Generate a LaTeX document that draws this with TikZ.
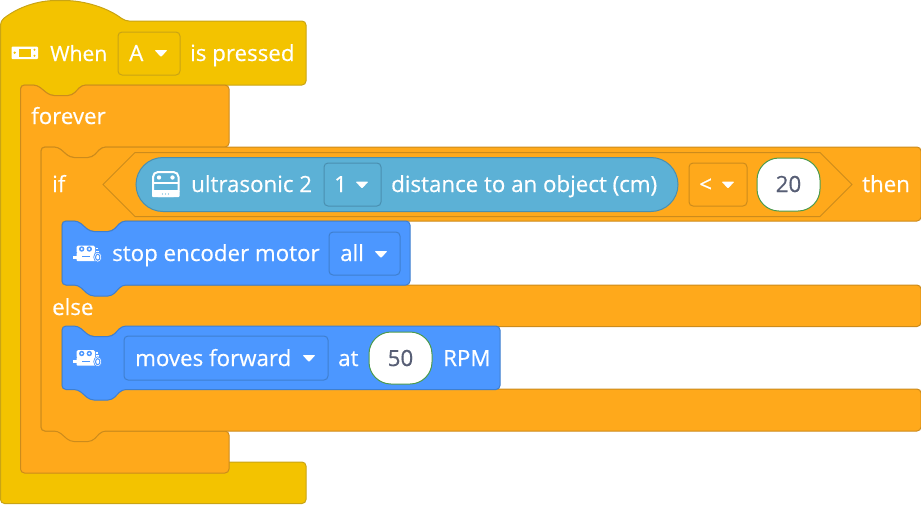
\documentclass[tikz,border=0pt]{standalone}
\usepackage{fontspec}
\setmainfont[RawFeature={embolden=0.5}]{Open Sans}
\usetikzlibrary{positioning}

\definecolor{hatfill}{HTML}{F3C300}
\definecolor{hatline}{HTML}{C9A414}
\definecolor{ctrlfill}{HTML}{FFA91B}
\definecolor{ctrlline}{HTML}{CC8B1C}
\definecolor{motorfill}{HTML}{4C97FF}
\definecolor{motorline}{HTML}{3F7FCF}
\definecolor{sensorfill}{HTML}{5CB1D6}
\definecolor{sensorline}{HTML}{4A8FB0}
\definecolor{numtext}{HTML}{575E75}
\definecolor{numline}{HTML}{4C9A4C}

\tikzset{
  hatblock/.style={draw=hatline,fill=hatfill,rounded corners=4pt,line width=1pt},
  ctrlblock/.style={draw=ctrlline,fill=ctrlfill,rounded corners=4pt,line width=1pt},
  motorblock/.style={draw=motorline,fill=motorfill,rounded corners=4pt,line width=1pt},
  ddbox/.style={rounded corners=4pt,line width=1pt},
  lbl/.style={anchor=base west,inner sep=0pt,text=white,font=\fontsize{22.3}{22.3}\selectfont},
  numlbl/.style={anchor=base,inner sep=0pt,text=numtext,font=\fontsize{22.3}{22.3}\selectfont},
  numpill/.style={draw=numline,fill=white,rounded corners=22pt,line width=1pt},
  motoricon/.pic={
    \fill[white,rounded corners=1.5pt] (3.7,0) rectangle (22,8);
    \fill[white,rounded corners=1pt] (3.7,7) rectangle (23.7,15.7);
    \fill[white] (0,10) rectangle (4,13);
    \fill[white] (22.5,2) rectangle (25,3.5);
    \fill[white] (22.5,5) rectangle (26,6.5);
    \fill[motorfill] (8.7,3.5) circle (2.7);
    \fill[motorfill] (16.3,3.5) circle (2.7);
    \fill[white] (8.7,3.5) circle (1.1);
    \fill[white] (16.3,3.5) circle (1.1);
    \fill[motorfill] (9,10.5) rectangle (17,11.5);
    \fill[white,draw=motorfill,line width=0.7pt] (24.7,11.7) ellipse (4 and 5);
    \fill[motorfill] (24.7,11.7) ellipse (2.7 and 3.6);
    \fill[white] (24.7,11.7) ellipse (1.5 and 2.3);
  }
}
\newcommand{\ddtip}[2]{\fill[white,rounded corners=1pt] (#1-6.5,#2-3) -- (#1+6.5,#2-3) -- (#1,#2+4) -- cycle;}

\begin{document}
\begin{tikzpicture}[x=1pt,y=-1pt]
\useasboundingbox (0,0) rectangle (921,504);

% yellow hat
\draw[hatblock] (0.5,21) .. controls (18,7) and (38,0.5) .. (60,0.5) .. controls (85,0.5) and (108,8) .. (125,21)
  -- (306,21) -- (306,85) -- (82,85) -- (72,95.5) -- (50,95.5) -- (37,85) -- (20.5,85) -- (20.5,462)
  -- (306,462) -- (306,503.5) -- (0.5,503.5) -- cycle;
% forever
\draw[ctrlblock] (20.5,85) -- (37,85) -- (50,95.5) -- (72,95.5) -- (82,85) -- (229,85) -- (229,147)
  -- (102,147) -- (92,157.5) -- (70,157.5) -- (58,147) -- (41,147) -- (41,431) -- (229,431) -- (229,473) -- (20.5,473) -- cycle;
% if else
\draw[ctrlblock] (41,147) -- (58,147) -- (70,157.5) -- (92,157.5) -- (102,147) -- (921,147) -- (921,221)
  -- (122,221) -- (112,231.5) -- (90,231.5) -- (78,221) -- (62,221) -- (62,285) -- (921,285) -- (921,326.5)
  -- (122,326.5) -- (112,336.5) -- (90,336.5) -- (78,326.5) -- (62,326.5) -- (62,389) -- (921,389) -- (921,431)
  -- (102,431) -- (92,441.5) -- (70,441.5) -- (58,431) -- (41,431) -- cycle;
% condition
\draw[ctrlline,line width=1pt] (135,152.5) -- (820,152.5) -- (852,184.5) -- (820,216.5) -- (135,216.5) -- (103,184.5) -- cycle;
\draw[draw=sensorline,fill=sensorfill,line width=1pt,rounded corners=27pt] (136,157.5) rectangle (678,211.5);
% motor blocks
\draw[motorblock] (62,221) -- (78,221) -- (90,231.5) -- (112,231.5) -- (122,221) -- (410,221) -- (410,285)
  -- (122,285) -- (112,296) -- (90,296) -- (78,285) -- (62,285) -- cycle;
\draw[motorblock] (62,326) -- (78,326) -- (90,336.5) -- (112,336.5) -- (122,326) -- (500,326) -- (500,389.5)
  -- (122,389.5) -- (112,400) -- (90,400) -- (78,389.5) -- (62,389.5) -- cycle;

% dropdown boxes
\draw[ddbox,draw=hatline,fill=hatfill] (118,32) rectangle (180,75);
\draw[ddbox,draw=sensorline,fill=sensorfill] (324,163) rectangle (381,206);
\draw[ddbox,draw=ctrlline,fill=ctrlfill] (689,163) rectangle (747,206);
\draw[ddbox,draw=motorline,fill=motorfill] (329,232) rectangle (400,275);
\draw[ddbox,draw=motorline,fill=motorfill] (124,336) rectangle (328,380);
\ddtip{161}{53}
\ddtip{362}{184.5}
\ddtip{728}{184.5}
\ddtip{381}{254}
\ddtip{309}{358}

% number pills
\draw[numpill] (757,158) rectangle (820,211);
\draw[numpill] (369,332) rectangle (432,384);

% gamepad icon
\fill[white,rounded corners=1pt] (11.5,46.5) rectangle (38,59);
\fill[hatfill] (18.5,49) rectangle (31,56.5);
\fill[hatfill] (14.7,52.7) circle (1.3);
\fill[hatfill] (34.5,49.7) circle (1.2);
\fill[hatfill] (34.5,55.7) circle (1.2);

% ultrasonic icon
\draw[white,line width=2pt,rounded corners=5pt] (153,172) rectangle (178.5,196);
\fill[white,rounded corners=1pt] (152,190) rectangle (179.5,197);
\draw[white,line width=1.5pt] (153,183) -- (178.5,183);
\fill[white] (159,177.5) circle (2.2);
\fill[white] (172.5,177.5) circle (2.2);
\foreach \dotx in {162.5,165.5,168.5}
  \fill[sensorfill] (\dotx,194) circle (0.7);

% motor icons
\pic at (73,245.5) {motoricon};
\pic at (73,350) {motoricon};

% labels
\node[lbl] (when) at (50,61) {\fontsize{21}{21}\selectfont When};
\node[lbl] (keya) at (129,61) {A};
\node[lbl] (pressed) at (190,61) {is pressed};
\node[lbl] (forever) at (31,124) {forever};
\node[lbl] (iflbl) at (52,192) {if};
\node[lbl] (ultra) at (191,192) {ultrasonic 2};
\node[lbl] (portnum) at (334,192) {1};
\node[lbl] (dist) at (391,192) {distance to an object (cm)};
\node[lbl] (ltsign) at (699,192) {<};
\node[numlbl] (twenty) at (788.5,192) {20};
\node[lbl] (then) at (862,192) {then};
\node[lbl] (stopm) at (112,261) {stop encoder motor};
\node[lbl] (allm) at (340,261) {all};
\node[lbl] (elselbl) at (52,315) {else};
\node[lbl] (moves) at (135,366) {moves forward};
\node[lbl] (atlbl) at (338,366) {at};
\node[numlbl] (fifty) at (400.5,366) {50};
\node[lbl] (rpm) at (443,366) {RPM};
\end{tikzpicture}
\end{document}
